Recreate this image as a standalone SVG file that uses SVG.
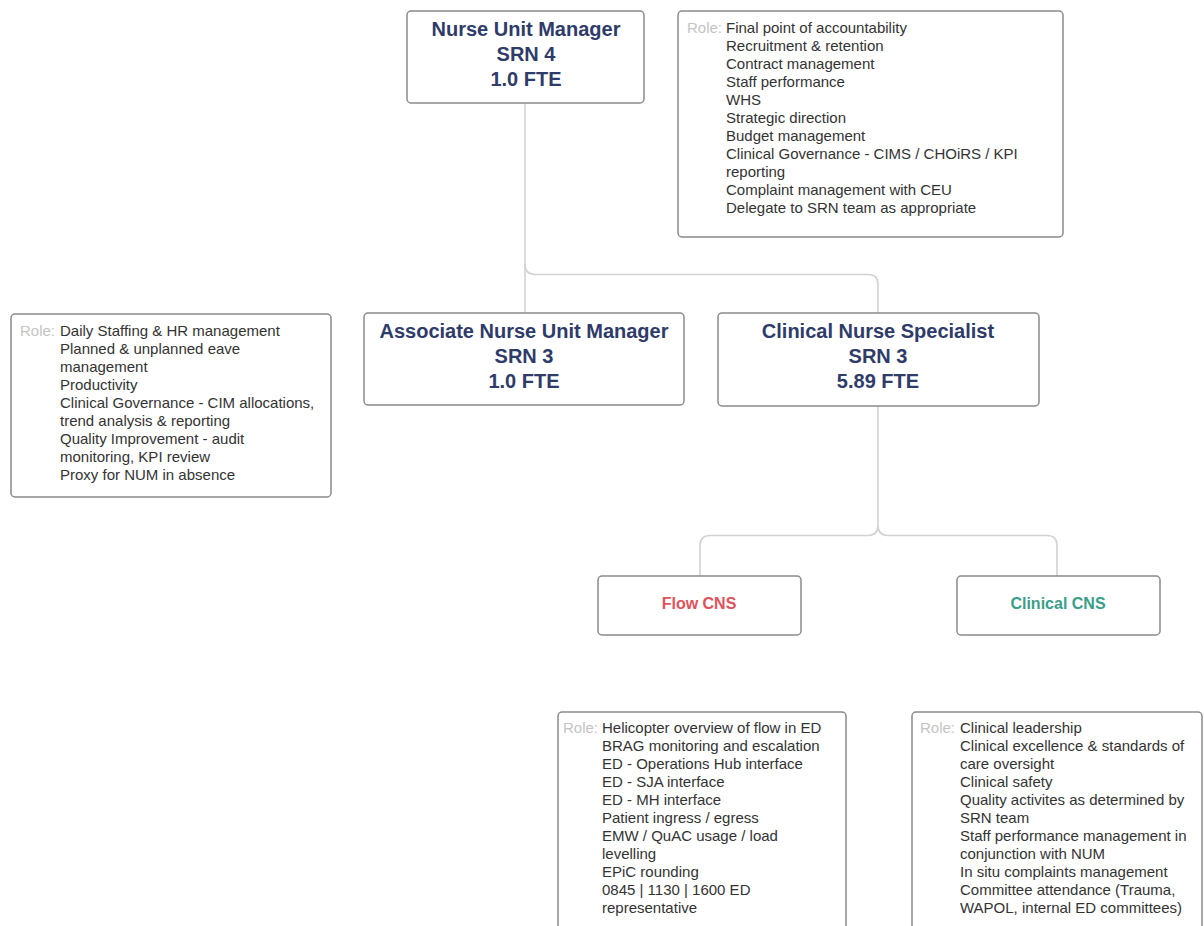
<svg xmlns="http://www.w3.org/2000/svg" width="1204" height="926" viewBox="0 0 1204 926">
<style>
.box{fill:#ffffff;stroke:#8a8a8a;stroke-width:1.5}
.title{font-family:"Liberation Sans",Arial,sans-serif;font-size:20px;font-weight:bold;fill:#2f3b69;text-anchor:middle}
.sub{font-family:"Liberation Sans",Arial,sans-serif;font-size:16px;font-weight:bold;text-anchor:middle}
.role{font-family:"Liberation Sans",Arial,sans-serif;font-size:15px;fill:#c4c4c4}
.txt{font-family:"Liberation Sans",Arial,sans-serif;font-size:15px;fill:#333333}
.conn{fill:none;stroke:#d2d2d2;stroke-width:1.6}
</style>
<rect width="1204" height="926" fill="#ffffff"/>
<g id="connectors">
<path class="conn" d="M525 103 V313"/>
<path class="conn" d="M525 264 Q525 274.5 535 274.5 H868 Q878 274.5 878 284.5 V313"/>
<path class="conn" d="M878 406 V525 Q878 535.5 868 535.5 H710 Q700 535.5 700 545.5 V576"/>
<path class="conn" d="M878 525 Q878 535.5 888 535.5 H1047 Q1057 535.5 1057 545.5 V576"/>
</g>
<g id="num">
<rect class="box" x="407" y="11" width="237" height="92" rx="4"/>
<text class="title" x="526" y="36">Nurse Unit Manager</text>
<text class="title" x="526" y="61">SRN 4</text>
<text class="title" x="526" y="86">1.0 FTE</text>
</g>
<g id="num-role">
<rect class="box" x="678" y="11" width="385" height="226" rx="4"/>
<text class="role" x="687" y="33">Role:</text>
<text class="txt" x="726" y="33">Final point of accountability</text>
<text class="txt" x="726" y="51">Recruitment &amp; retention</text>
<text class="txt" x="726" y="69">Contract management</text>
<text class="txt" x="726" y="87">Staff performance</text>
<text class="txt" x="726" y="105">WHS</text>
<text class="txt" x="726" y="123">Strategic direction</text>
<text class="txt" x="726" y="141">Budget management</text>
<text class="txt" x="726" y="159">Clinical Governance - CIMS / CHOiRS / KPI</text>
<text class="txt" x="726" y="177">reporting</text>
<text class="txt" x="726" y="195">Complaint management with CEU</text>
<text class="txt" x="726" y="213">Delegate to SRN team as appropriate</text>
</g>
<g id="anum">
<rect class="box" x="364" y="313" width="320" height="92" rx="4"/>
<text class="title" x="524" y="338">Associate Nurse Unit Manager</text>
<text class="title" x="524" y="363">SRN 3</text>
<text class="title" x="524" y="388">1.0 FTE</text>
</g>
<g id="anum-role">
<rect class="box" x="11" y="314" width="320" height="183" rx="4"/>
<text class="role" x="20" y="336">Role:</text>
<text class="txt" x="60" y="336">Daily Staffing &amp; HR management</text>
<text class="txt" x="60" y="354">Planned &amp; unplanned eave</text>
<text class="txt" x="60" y="372">management</text>
<text class="txt" x="60" y="390">Productivity</text>
<text class="txt" x="60" y="408">Clinical Governance - CIM allocations,</text>
<text class="txt" x="60" y="426">trend analysis &amp; reporting</text>
<text class="txt" x="60" y="444">Quality Improvement - audit</text>
<text class="txt" x="60" y="462">monitoring, KPI review</text>
<text class="txt" x="60" y="480">Proxy for NUM in absence</text>
</g>
<g id="cns">
<rect class="box" x="718" y="313" width="321" height="93" rx="4"/>
<text class="title" x="878" y="338">Clinical Nurse Specialist</text>
<text class="title" x="878" y="363">SRN 3</text>
<text class="title" x="878" y="388">5.89 FTE</text>
</g>
<g id="flow-cns">
<rect class="box" x="598" y="576" width="203" height="59" rx="4"/>
<text class="sub" x="699" y="609" fill="#e0525b">Flow CNS</text>
</g>
<g id="clinical-cns">
<rect class="box" x="957" y="576" width="203" height="59" rx="4"/>
<text class="sub" x="1058" y="609" fill="#3a9e8a">Clinical CNS</text>
</g>
<g id="flow-role">
<rect class="box" x="558" y="712" width="288" height="240" rx="4"/>
<text class="role" x="563" y="733">Role:</text>
<text class="txt" x="602" y="733">Helicopter overview of flow in ED</text>
<text class="txt" x="602" y="751">BRAG monitoring and escalation</text>
<text class="txt" x="602" y="769">ED - Operations Hub interface</text>
<text class="txt" x="602" y="787">ED - SJA interface</text>
<text class="txt" x="602" y="805">ED - MH interface</text>
<text class="txt" x="602" y="823">Patient ingress / egress</text>
<text class="txt" x="602" y="841">EMW / QuAC usage / load</text>
<text class="txt" x="602" y="859">levelling</text>
<text class="txt" x="602" y="877">EPiC rounding</text>
<text class="txt" x="602" y="895">0845 | 1130 | 1600 ED</text>
<text class="txt" x="602" y="913">representative</text>
</g>
<g id="clinical-role">
<rect class="box" x="912" y="712" width="290" height="240" rx="4"/>
<text class="role" x="920" y="733">Role:</text>
<text class="txt" x="960" y="733">Clinical leadership</text>
<text class="txt" x="960" y="751">Clinical excellence &amp; standards of</text>
<text class="txt" x="960" y="769">care oversight</text>
<text class="txt" x="960" y="787">Clinical safety</text>
<text class="txt" x="960" y="805">Quality activites as determined by</text>
<text class="txt" x="960" y="823">SRN team</text>
<text class="txt" x="960" y="841">Staff performance management in</text>
<text class="txt" x="960" y="859">conjunction with NUM</text>
<text class="txt" x="960" y="877">In situ complaints management</text>
<text class="txt" x="960" y="895">Committee attendance (Trauma,</text>
<text class="txt" x="960" y="913">WAPOL, internal ED committees)</text>
</g>
</svg>
